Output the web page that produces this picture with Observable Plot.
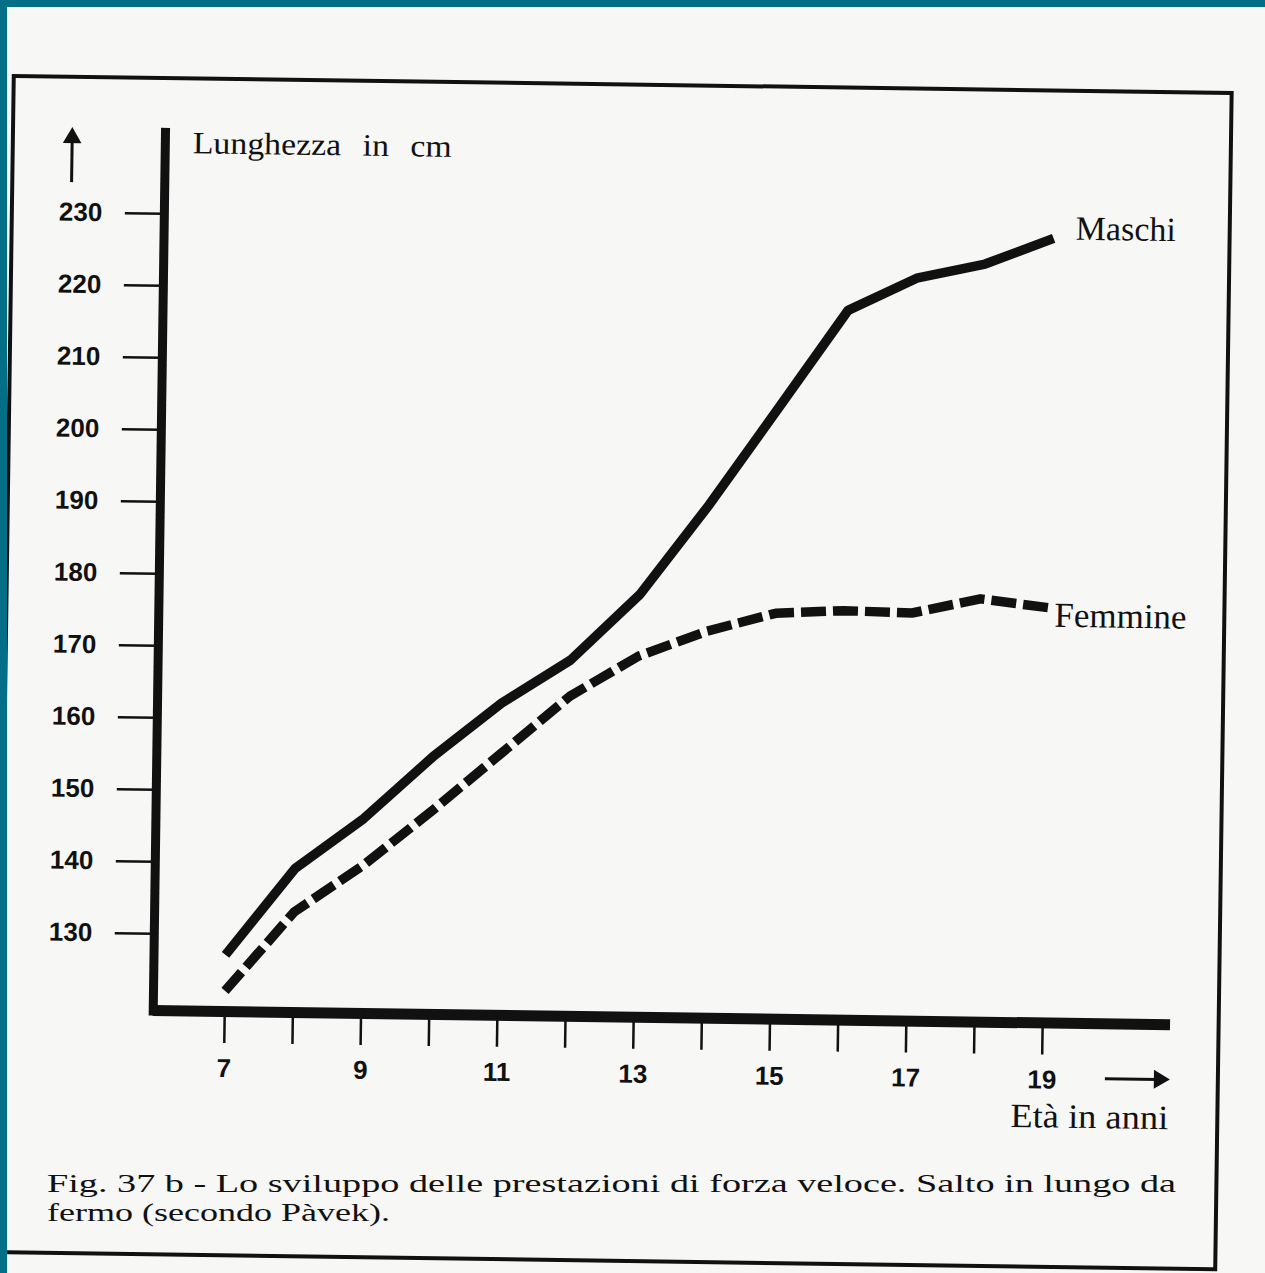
<!DOCTYPE html>
<html><head><meta charset="utf-8">
<script src="https://cdn.jsdelivr.net/npm/d3@7"></script>
<script src="https://cdn.jsdelivr.net/npm/@observablehq/plot@0.6"></script>
<style>
html,body{margin:0;padding:0;}
body{width:1265px;height:1273px;background:#036e87;overflow:hidden;position:relative;}
#paper{position:absolute;left:7px;top:7px;width:1258px;height:1266px;background:#f7f7f5;overflow:hidden;}
#stage{position:absolute;left:-7px;top:-7px;width:1265px;height:1273px;transform:rotate(0.8deg);transform-origin:632px 636px;}
#stage svg{position:absolute;left:0;top:0;}
#captionLayer{position:absolute;left:-7px;top:-7px;}
</style></head><body>
<div id="paper"><div id="stage"></div><svg id="captionLayer" width="1265" height="1273"></svg></div>
<script>
// ---- data ----
const ages = [7, 8, 9, 10, 11, 12, 13, 14, 15, 16, 17, 18, 19];
const maschi = [127.2, 139.3, 146.4, 155.1, 162.7, 168.8, 178.0, 190.6, 204.2, 217.9, 222.5, 224.6, 228.3];
const femmine = [122.2, 133.3, 139.9, 147.6, 155.7, 163.8, 169.5, 173.1, 175.7, 176.2, 176.0, 178.1, 177.0];
const seriesNames = ["Maschi", "Femmine"];
const yTicks = [130, 140, 150, 160, 170, 180, 190, 200, 210, 220, 230];
const xLabelAges = [7, 9, 11, 13, 15, 17, 19];
const yLabel = "Lunghezza in cm";
const xLabel = "Età in anni";
const captionLines = ["Fig. 37 b - Lo sviluppo delle prestazioni di forza veloce. Salto in lungo da", "fermo (secondo Pàvek)."];

const ink = "#111";
const serif = "'Liberation Serif', 'Times New Roman', serif";
const sans = "'Liberation Sans', Arial, sans-serif";

const rows = [
  ...ages.map((a, i) => ({age: a, value: maschi[i], series: seriesNames[0]})),
  ...ages.map((a, i) => ({age: a, value: femmine[i], series: seriesNames[1]}))
];
const lastRows = seriesNames.map(s => rows.filter(r => r.series === s).at(-1));

const xMin = 5.951, xMax = 20.876, yMin = 119.33, yMax = 241.84;

const chart = Plot.plot({
  width: 1265, height: 1273,
  marginLeft: 158, marginRight: 89.6, marginTop: 134.5, marginBottom: 256.3,
  style: {background: "transparent", overflow: "visible", color: ink},
  x: {domain: [xMin, xMax]},
  y: {domain: [yMin, yMax]},
  marks: [
    Plot.axisY(yTicks, {tickSize: 39, tickPadding: 23, fontSize: 26, fontWeight: "bold", fontFamily: sans, strokeWidth: 2.5, stroke: ink, fill: ink, label: null}),
    Plot.axisX(ages, {tickSize: 32, tickPadding: 15, fontSize: 26, fontWeight: "bold", fontFamily: sans, strokeWidth: 2.5, stroke: ink, fill: ink, label: null,
      tickFormat: d => xLabelAges.includes(d) ? String(d) : ""}),
    Plot.ruleY([yMin], {stroke: ink, strokeWidth: 11}),
    Plot.ruleX([xMin], {stroke: ink, strokeWidth: 9, insetBottom: -5.5}),
    Plot.line(rows.filter(r => r.series === seriesNames[0]), {x: "age", y: "value", stroke: ink, strokeWidth: 9.5, strokeLinecap: "butt", strokeLinejoin: "round"}),
    Plot.line(rows.filter(r => r.series === seriesNames[1]), {x: "age", y: "value", stroke: ink, strokeWidth: 9.5, strokeLinecap: "butt", strokeLinejoin: "round", strokeDasharray: "25,7"}),
    Plot.text(lastRows.slice(0, 1), {x: "age", y: "value", text: "series", textAnchor: "start", lineAnchor: "bottom", dx: 22, dy: 1, fontSize: 34, fontFamily: serif, fill: ink}),
    Plot.text(lastRows.slice(1, 2), {x: "age", y: "value", text: "series", textAnchor: "start", lineAnchor: "bottom", dx: 6, dy: 19, fontSize: 35, fontFamily: serif, fill: ink})
  ]
});

const stage = document.getElementById("stage");

// decorations (frame, arrows, axis titles)
const deco = d3.create("svg").attr("width", 1265).attr("height", 1273).attr("viewBox", "0 0 1265 1273");
deco.append("rect").attr("x", 6).attr("y", 84.6).attr("width", 1218).attr("height", 1176.4)
  .attr("fill", "none").attr("stroke", ink).attr("stroke-width", 4);
// up arrow
deco.append("line").attr("x1", 65.3).attr("x2", 65.3).attr("y1", 190).attr("y2", 146).attr("stroke", ink).attr("stroke-width", 3);
deco.append("path").attr("d", "M65.3,134.8 L56,151 L74.6,151 Z").attr("fill", ink);
// right arrow
deco.append("line").attr("x1", 1111).attr("x2", 1164).attr("y1", 1072).attr("y2", 1072).attr("stroke", ink).attr("stroke-width", 3);
deco.append("path").attr("d", "M1176,1072 L1160,1062.5 L1160,1081.5 Z").attr("fill", ink);

deco.append("text").attr("x", 186).attr("y", 159.4).attr("font-family", serif).attr("font-size", 31)
  .attr("word-spacing", 12).attr("textLength", 259).attr("lengthAdjust", "spacingAndGlyphs").attr("fill", ink).text(yLabel);
deco.append("text").attr("x", 1017).attr("y", 1121.6).attr("font-family", serif).attr("font-size", 34)
  .attr("textLength", 158).attr("lengthAdjust", "spacingAndGlyphs").attr("fill", ink).text(xLabel);

stage.appendChild(deco.node());
stage.appendChild(chart);

// caption (nearly level on the scan)
const cap = d3.select("#captionLayer");
cap.append("text").attr("x", 47).attr("y", 1192).attr("font-family", serif).attr("font-size", 26)
  .attr("textLength", 1129).attr("lengthAdjust", "spacingAndGlyphs").attr("fill", ink).text(captionLines[0]);
cap.append("text").attr("x", 47).attr("y", 1221).attr("font-family", serif).attr("font-size", 26)
  .attr("textLength", 343).attr("lengthAdjust", "spacingAndGlyphs").attr("fill", ink).text(captionLines[1]);
</script>
</body></html>
